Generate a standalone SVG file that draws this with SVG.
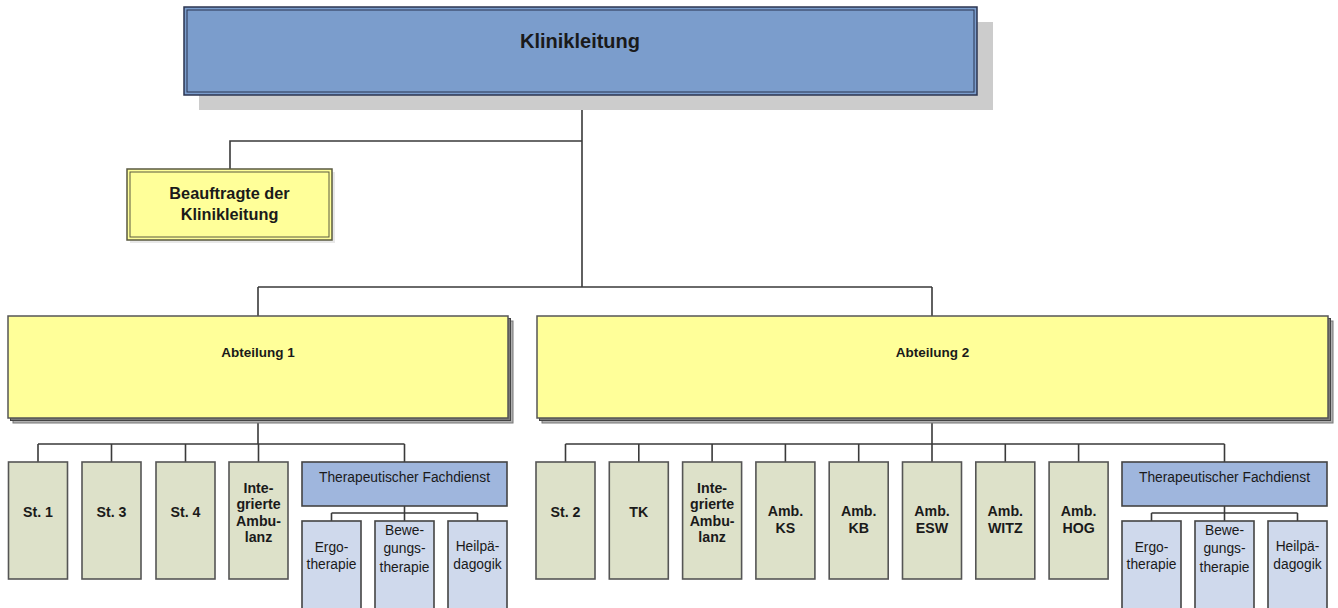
<svg xmlns="http://www.w3.org/2000/svg" width="1338" height="608" viewBox="0 0 1338 608">
<style>
text{font-family:"Liberation Sans",Arial,sans-serif;fill:#1a1a1a;text-anchor:middle}
.b{font-weight:bold}
.con{fill:none;stroke:#3a3a3a;stroke-width:1.6}
.top{fill:#7b9dcc;stroke:#2b3550;stroke-width:1.5}
.yel{fill:#ffff99;stroke:#555;stroke-width:1.5}
.sh1{fill:#7a7a7a;stroke:#444;stroke-width:1}
.sh2{fill:#b0b0b0;stroke:#777;stroke-width:1}
.grn{fill:#dde1c9;stroke:#555;stroke-width:1.6}
.tf{fill:#9fb6dd;stroke:#444;stroke-width:1.6}
.sub{fill:#cfd9ec;stroke:#444;stroke-width:1.6}
.t13{font-size:13.8px}
.t14{font-size:14.2px}
</style>

<g id="connectors">
<path class="con" d="M582 95 V287 M582 141 H230 V169 M258 287 H932 M258 287 V316 M932 287 V316"/>
<path class="con" d="M258 418 V444 M38 444 H404.5 M38 444 V462 M111.5 444 V462 M185.5 444 V462 M258.5 444 V462 M404.5 444 V462"/>
<path class="con" d="M404.5 506 V513 M331.5 513 H477.5 M331.5 513 V521 M404.5 513 V521 M477.5 513 V521"/>
<path class="con" d="M932 418 V444 M565.5 444 H1224.5 M565.5 444 V462 M638.8 444 V462 M712.1 444 V462 M785.4 444 V462 M858.7 444 V462 M932 444 V462 M1005.3 444 V462 M1078.6 444 V462 M1224.5 444 V462"/>
<path class="con" d="M1224.5 506 V513 M1151.5 513 H1297.5 M1151.5 513 V521 M1224.5 513 V521 M1297.5 513 V521"/>
</g>

<g id="klinikleitung">
<rect x="199" y="22" width="794" height="88" fill="#cccccc"/>
<rect class="top" x="184" y="7" width="793" height="88"/>
<rect x="187" y="10" width="787" height="82" fill="none" stroke="#2b3550" stroke-width="1"/>
<text class="b" x="580" y="48" style="font-size:20px">Klinikleitung</text>
</g>

<g id="beauftragte">
<rect x="130" y="172" width="205" height="71" fill="#e8e8e8"/>
<rect x="127" y="169" width="205" height="71" fill="#ffff99" stroke="#5a5a40" stroke-width="1.5"/>
<rect x="130" y="172" width="199" height="65" fill="none" stroke="#5a5a40" stroke-width="1"/>
<text class="b" x="229.5" y="199" style="font-size:16.3px">Beauftragte der</text>
<text class="b" x="229.5" y="220" style="font-size:16.3px">Klinikleitung</text>
</g>

<g id="abteilung1">
<rect class="sh2" x="13" y="321" width="500" height="102"/>
<rect class="sh1" x="10.5" y="318.5" width="500" height="102"/>
<rect class="yel" x="8" y="316" width="500" height="102"/>
<text class="b" x="258" y="357" style="font-size:13.5px">Abteilung 1</text>
</g>

<g id="abteilung2">
<rect class="sh2" x="542" y="321" width="791" height="102"/>
<rect class="sh1" x="539.5" y="318.5" width="791" height="102"/>
<rect class="yel" x="537" y="316" width="791" height="102"/>
<text class="b" x="932.5" y="357" style="font-size:13.5px">Abteilung 2</text>
</g>

<g id="st1"><rect class="grn" x="8.5" y="462" width="59" height="117"/><text class="b t14" x="38" y="517">St. 1</text></g>
<g id="st3"><rect class="grn" x="82" y="462" width="59" height="117"/><text class="b t14" x="111.5" y="517">St. 3</text></g>
<g id="st4"><rect class="grn" x="156" y="462" width="59" height="117"/><text class="b t14" x="185.5" y="517">St. 4</text></g>
<g id="ia1"><rect class="grn" x="229" y="462" width="59" height="117"/>
<text class="b t14" x="258.5" y="493">Inte-</text><text class="b t14" x="258.5" y="509">grierte</text><text class="b t14" x="258.5" y="526">Ambu-</text><text class="b t14" x="258.5" y="542">lanz</text></g>

<g id="tf1"><rect class="tf" x="302" y="462" width="205" height="44"/><text class="t13" x="404.5" y="482">Therapeutischer Fachdienst</text></g>
<g id="ergo1"><rect class="sub" x="302" y="521" width="59" height="95"/><text class="t13" x="331.5" y="552">Ergo-</text><text class="t13" x="331.5" y="569">therapie</text></g>
<g id="bew1"><rect class="sub" x="375" y="521" width="59" height="95"/><text class="t13" x="404.5" y="535">Bewe-</text><text class="t13" x="404.5" y="553">gungs-</text><text class="t13" x="404.5" y="572">therapie</text></g>
<g id="heil1"><rect class="sub" x="448" y="521" width="59" height="95"/><text class="t13" x="477.5" y="551">Heilpä-</text><text class="t13" x="477.5" y="569">dagogik</text></g>

<g id="st2"><rect class="grn" x="536" y="462" width="59" height="117"/><text class="b t14" x="565.5" y="517">St. 2</text></g>
<g id="tk"><rect class="grn" x="609.3" y="462" width="59" height="117"/><text class="b t14" x="638.8" y="517">TK</text></g>
<g id="ia2"><rect class="grn" x="682.6" y="462" width="59" height="117"/>
<text class="b t14" x="712.1" y="493">Inte-</text><text class="b t14" x="712.1" y="509">grierte</text><text class="b t14" x="712.1" y="526">Ambu-</text><text class="b t14" x="712.1" y="542">lanz</text></g>
<g id="ambks"><rect class="grn" x="755.9" y="462" width="59" height="117"/><text class="b t14" x="785.4" y="516">Amb.</text><text class="b t14" x="785.4" y="533">KS</text></g>
<g id="ambkb"><rect class="grn" x="829.2" y="462" width="59" height="117"/><text class="b t14" x="858.7" y="516">Amb.</text><text class="b t14" x="858.7" y="533">KB</text></g>
<g id="ambesw"><rect class="grn" x="902.5" y="462" width="59" height="117"/><text class="b t14" x="932" y="516">Amb.</text><text class="b t14" x="932" y="533">ESW</text></g>
<g id="ambwitz"><rect class="grn" x="975.8" y="462" width="59" height="117"/><text class="b t14" x="1005.3" y="516">Amb.</text><text class="b t14" x="1005.3" y="533">WITZ</text></g>
<g id="ambhog"><rect class="grn" x="1049.1" y="462" width="59" height="117"/><text class="b t14" x="1078.6" y="516">Amb.</text><text class="b t14" x="1078.6" y="533">HOG</text></g>

<g id="tf2"><rect class="tf" x="1122" y="462" width="205" height="44"/><text class="t13" x="1224.5" y="482">Therapeutischer Fachdienst</text></g>
<g id="ergo2"><rect class="sub" x="1122" y="521" width="59" height="95"/><text class="t13" x="1151.5" y="552">Ergo-</text><text class="t13" x="1151.5" y="569">therapie</text></g>
<g id="bew2"><rect class="sub" x="1195" y="521" width="59" height="95"/><text class="t13" x="1224.5" y="535">Bewe-</text><text class="t13" x="1224.5" y="553">gungs-</text><text class="t13" x="1224.5" y="572">therapie</text></g>
<g id="heil2"><rect class="sub" x="1268" y="521" width="59" height="95"/><text class="t13" x="1297.5" y="551">Heilpä-</text><text class="t13" x="1297.5" y="569">dagogik</text></g>
</svg>
